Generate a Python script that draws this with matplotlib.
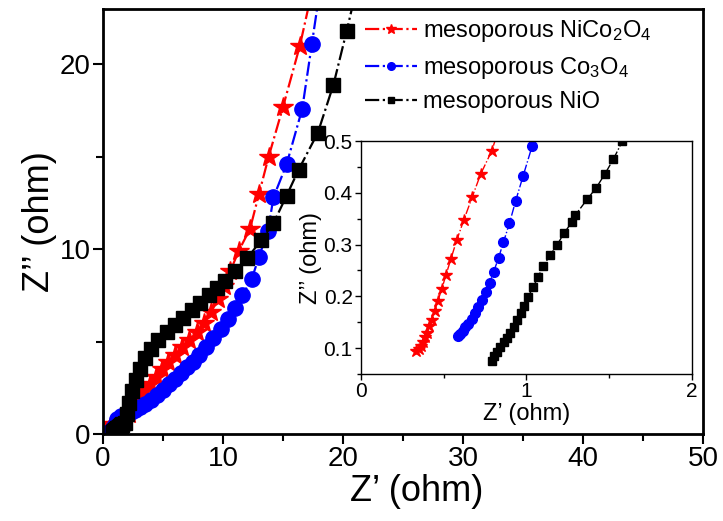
import numpy as np
import matplotlib.pyplot as plt
from matplotlib.ticker import MultipleLocator

plt.rcParams['font.family'] = ['Liberation Sans', 'DejaVu Sans']
plt.rcParams['mathtext.fontset'] = 'custom'
plt.rcParams['mathtext.rm'] = 'Liberation Sans'
plt.rcParams['mathtext.it'] = 'Liberation Sans:italic'

# high-frequency region (inset), Z' and Z'' in ohm
nico_x_hf = [0.332, 0.349, 0.363, 0.376, 0.389, 0.401, 0.409, 0.429, 0.445, 0.465, 0.489, 0.514,
             0.544, 0.578, 0.622, 0.671, 0.723, 0.79, 0.84]
nico_y_hf = [0.094, 0.098, 0.104, 0.112, 0.121, 0.130, 0.142, 0.154, 0.172, 0.192, 0.215, 0.242,
             0.273, 0.308, 0.348, 0.391, 0.436, 0.481, 0.53]
co_x_hf = [0.589, 0.601, 0.615, 0.631, 0.649, 0.669, 0.688, 0.708, 0.73, 0.754, 0.778, 0.802,
           0.831, 0.861, 0.897, 0.935, 0.98, 1.034]
co_y_hf = [0.124, 0.128, 0.133, 0.140, 0.147, 0.156, 0.167, 0.179, 0.193, 0.208, 0.226, 0.248,
           0.274, 0.305, 0.341, 0.385, 0.433, 0.490]
nio_x_hf = [0.79, 0.806, 0.822, 0.842, 0.862, 0.883, 0.903, 0.924, 0.944, 0.964, 0.984, 1.01,
            1.04, 1.07, 1.10, 1.142, 1.186, 1.227, 1.273, 1.295, 1.368, 1.422, 1.475, 1.525, 1.58, 1.62]
nio_y_hf = [0.076, 0.084, 0.093, 0.1025, 0.111, 0.119, 0.130, 0.141, 0.154, 0.167, 0.181, 0.199,
            0.218, 0.237, 0.258, 0.279, 0.300, 0.322, 0.343, 0.357, 0.388, 0.410, 0.437, 0.465, 0.500, 0.53]

# remaining spectrum (main plot)
nico_x_lf = [1.3, 1.8, 2.2, 2.6, 3.0, 3.4, 3.9, 4.4, 4.9, 5.4, 6.0, 6.6, 7.2, 7.8, 8.4, 9.0,
             9.6, 10.1, 10.6, 11.3, 12.25, 13.0, 13.8, 15.0, 16.4, 17.7]
nico_y_lf = [0.5, 0.8, 1.1, 1.5, 1.9, 2.3, 2.7, 3.1, 3.5, 3.9, 4.3, 4.7, 5.1, 5.5, 6.0, 6.6,
             7.3, 8.0, 8.8, 9.9, 11.1, 13.0, 15.0, 17.7, 21.0, 24.8]
co_x_lf = [1.2, 1.5, 1.9, 2.3, 2.7, 3.1, 3.5, 4.0, 4.5, 5.0, 5.5, 6.0, 6.5, 7.0, 7.5, 8.0,
           8.6, 9.2, 9.8, 10.4, 11.0, 11.6, 12.4, 13.0, 13.75, 14.2, 15.3, 16.6, 17.4, 18.2]
co_y_lf = [0.8, 1.0, 1.1, 1.2, 1.3, 1.45, 1.6, 1.85, 2.1, 2.4, 2.7, 3.0, 3.3, 3.6, 3.9, 4.3,
           4.7, 5.2, 5.7, 6.2, 6.8, 7.5, 8.4, 9.6, 11.0, 12.8, 14.6, 17.6, 21.1, 24.6]
nio_x_lf = [1.8, 2.0, 2.2, 2.45, 2.75, 3.1, 3.5, 4.0, 4.6, 5.3, 6.0, 6.7, 7.4, 8.1, 8.8, 9.5,
            10.2, 11.0, 12.0, 13.2, 14.2, 15.3, 16.3, 17.9, 19.2, 20.3, 21.2]
nio_y_lf = [0.6, 1.1, 1.7, 2.3, 2.9, 3.5, 4.1, 4.6, 5.1, 5.5, 5.9, 6.3, 6.7, 7.1, 7.5, 7.9,
            8.3, 8.8, 9.5, 10.5, 11.4, 12.9, 14.3, 16.3, 18.9, 21.8, 24.3]

labels = ['mesoporous NiCo$_\\mathrm{2}$O$_\\mathrm{4}$',
          'mesoporous Co$_\\mathrm{3}$O$_\\mathrm{4}$',
          'mesoporous NiO']

fig = plt.figure(figsize=(7.23, 5.21), dpi=100)
ax = fig.add_axes([0.1425, 0.167, 0.830, 0.816])

ax.plot(nico_x_hf + nico_x_lf, nico_y_hf + nico_y_lf, '-.', color='red', marker='*',
        ms=15, lw=1.6, label=labels[0])
ax.plot(co_x_hf + co_x_lf, co_y_hf + co_y_lf, '-.', color='blue', marker='o',
        ms=11, lw=1.6, label=labels[1])
ax.plot(nio_x_hf + nio_x_lf, nio_y_hf + nio_y_lf, '-.', color='black', marker='s',
        ms=10, lw=1.6, label=labels[2])

ax.set_xlim(0, 50)
ax.set_ylim(0, 23)
ax.xaxis.set_major_locator(MultipleLocator(10))
ax.xaxis.set_minor_locator(MultipleLocator(5))
ax.yaxis.set_major_locator(MultipleLocator(10))
ax.yaxis.set_minor_locator(MultipleLocator(5))
ax.tick_params(which='both', direction='out', width=1.5, labelsize=20)
ax.tick_params(which='major', length=7, pad=2)
ax.tick_params(which='minor', length=5)
for s in ax.spines.values():
    s.set_linewidth(2)
ax.set_xlabel('Z\u2019 (ohm)', fontsize=26)
ax.xaxis.set_label_coords(0.523, -0.095)
ax.set_ylabel('Z\u2019\u2019 (ohm)', fontsize=26, labelpad=2)

ax.legend(loc='upper left', bbox_to_anchor=(0.505, 0.965), bbox_transform=fig.transFigure,
          frameon=False, fontsize=17, borderaxespad=0, borderpad=0,
          handlelength=2.2, handletextpad=0.25, labelspacing=0.45, markerscale=0.5)

# inset
ins = fig.add_axes([0.4993, 0.2821, 0.4578, 0.4472])
ins.plot(nico_x_hf, nico_y_hf, '-.', color='red', marker='*', ms=9, lw=1)
ins.plot(co_x_hf, co_y_hf, '-.', color='blue', marker='o', ms=7, lw=1)
ins.plot(nio_x_hf, nio_y_hf, '-.', color='black', marker='s', ms=6, lw=1)
ins.set_xlim(0, 2)
ins.set_ylim(0.05, 0.5)
ins.xaxis.set_major_locator(MultipleLocator(1))
ins.xaxis.set_minor_locator(MultipleLocator(0.5))
ins.yaxis.set_major_locator(MultipleLocator(0.1))
ins.yaxis.set_minor_locator(MultipleLocator(0.05))
ins.set_xticks([0, 1, 2])
ins.set_xticklabels(['0', '1', '2'])
ins.tick_params(which='both', direction='out', width=1, labelsize=15)
ins.tick_params(which='major', length=4, pad=2)
ins.tick_params(which='minor', length=3)
for s in ins.spines.values():
    s.set_linewidth(1)
ins.set_xlabel('Z\u2019 (ohm)', fontsize=17, labelpad=1)
ins.set_ylabel('Z\u2019\u2019 (ohm)', fontsize=17, labelpad=1)

fig.savefig('out.png', dpi=100)
